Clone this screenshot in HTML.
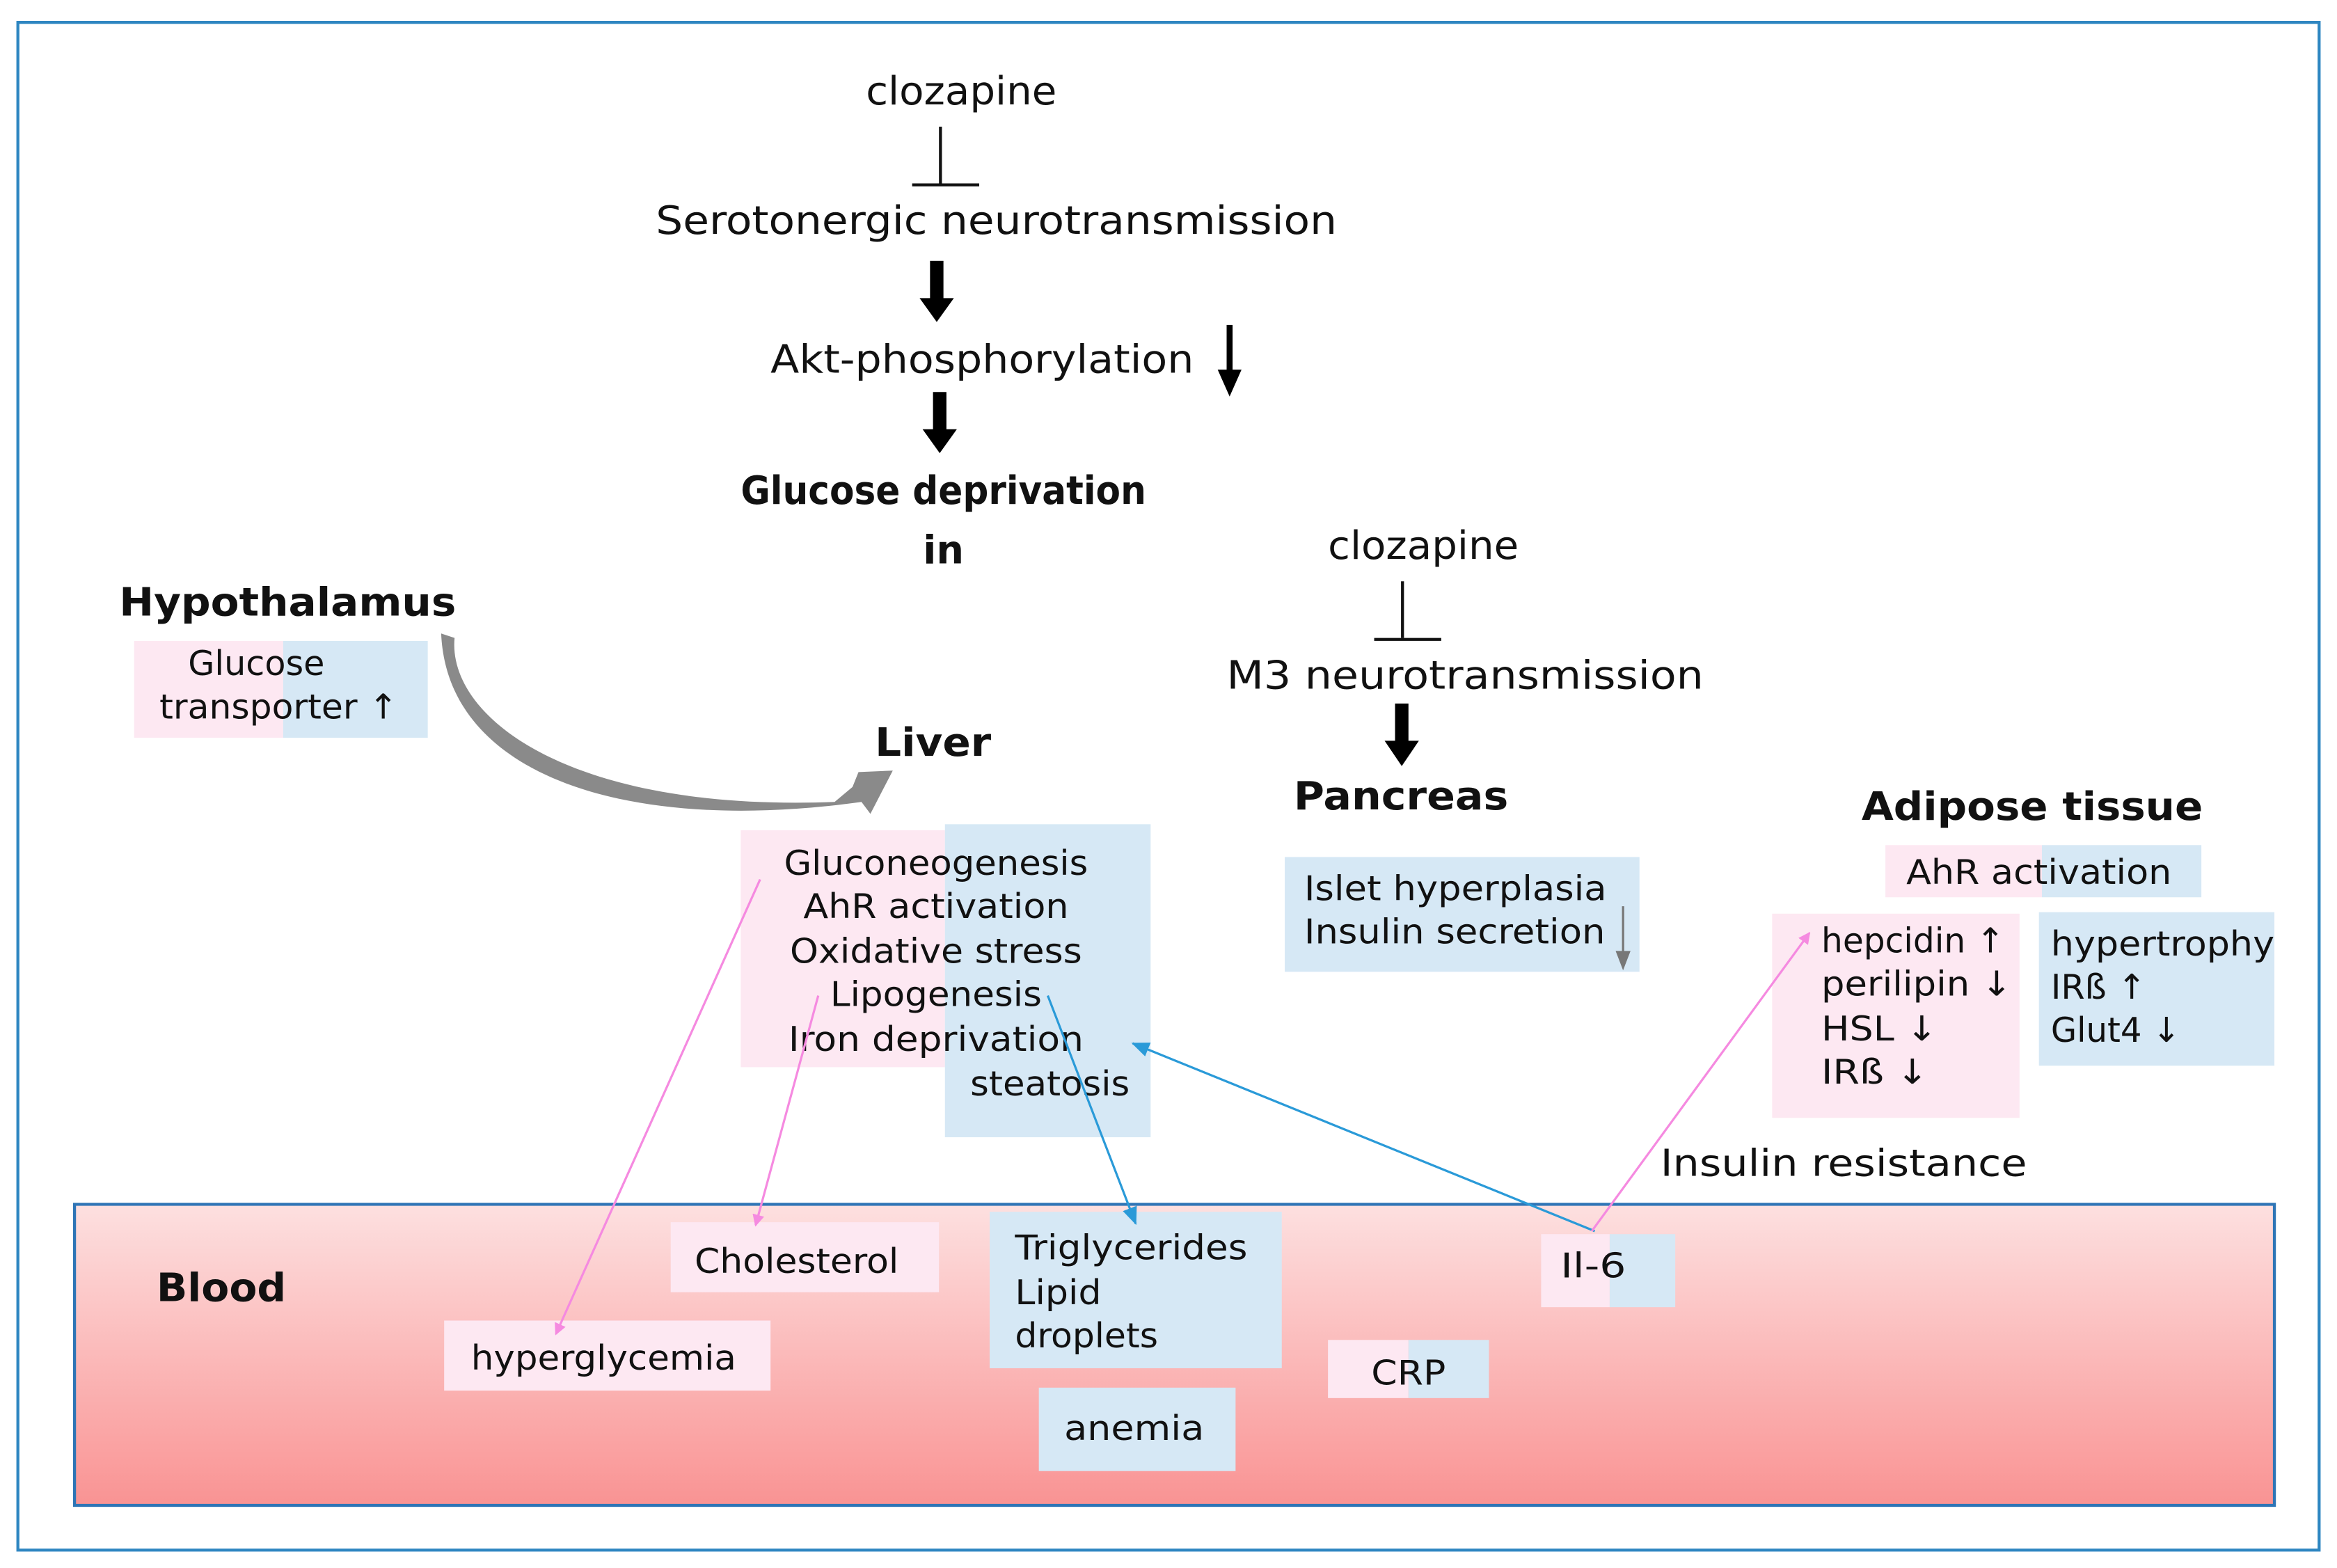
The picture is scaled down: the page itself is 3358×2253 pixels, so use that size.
<!DOCTYPE html>
<html><head><meta charset="utf-8"><style>
html,body{margin:0;padding:0;background:#fff;}
svg{display:block;}
text{font-family:"DejaVu Sans","Liberation Sans",sans-serif;fill:#111;}
.b{font-weight:bold;}
</style></head><body>
<svg width="3358" height="2253" viewBox="0 0 1568 1052" xmlns="http://www.w3.org/2000/svg">
<defs>
<linearGradient id="bl" x1="0" y1="0" x2="0" y2="1">
<stop offset="0" stop-color="#fde0e0"/><stop offset="1" stop-color="#f99393"/>
</linearGradient>
<marker id="mp" markerWidth="8" markerHeight="8" refX="7" refY="4" orient="auto" markerUnits="userSpaceOnUse"><path d="M0,0 L8,4 L0,8z" fill="#f58ae0"/></marker>
<marker id="mb" markerWidth="12" markerHeight="10" refX="11" refY="5" orient="auto" markerUnits="userSpaceOnUse"><path d="M0,0 L12,5 L0,10z" fill="#2a9ad8"/></marker>
<linearGradient id="gr" x1="0" y1="0" x2="1" y2="1"><stop offset="0" stop-color="#888"/><stop offset="1" stop-color="#aaa"/></linearGradient>
</defs>
<rect x="0" y="0" width="1568" height="1052" fill="#fff"/>
<rect x="12" y="15" width="1544" height="1025" fill="none" stroke="#2e86c1" stroke-width="2"/>

<!-- blood -->
<rect x="50" y="808" width="1476" height="202" fill="url(#bl)" stroke="#2e75b6" stroke-width="2"/>

<!-- top cascade -->
<text x="645" y="70" font-size="26" text-anchor="middle" textLength="128" lengthAdjust="spacingAndGlyphs">clozapine</text>
<line x1="631" y1="85" x2="631" y2="123" stroke="#111" stroke-width="2"/>
<line x1="612" y1="124" x2="657" y2="124" stroke="#111" stroke-width="2"/>
<text x="440" y="157" font-size="26" textLength="457" lengthAdjust="spacingAndGlyphs">Serotonergic  neurotransmission</text>
<rect x="624" y="175" width="9" height="27" fill="#000"/><path d="M617,200 L640,200 L628.5,216z" fill="#000"/>
<text x="517" y="250" font-size="26" textLength="284" lengthAdjust="spacingAndGlyphs">Akt-phosphorylation</text>
<rect x="823" y="218" width="4" height="33" fill="#000"/><path d="M817,248 L833,248 L825,266z" fill="#000"/>
<rect x="626" y="263" width="9" height="27" fill="#000"/><path d="M619,288 L642,288 L630.5,304z" fill="#000"/>
<text x="633" y="338" font-size="26" class="b" text-anchor="middle" textLength="272" lengthAdjust="spacingAndGlyphs">Glucose deprivation</text>
<text x="633" y="378" font-size="26" class="b" text-anchor="middle">in</text>

<text x="955" y="375" font-size="26" text-anchor="middle" textLength="128" lengthAdjust="spacingAndGlyphs">clozapine</text>
<line x1="941" y1="390" x2="941" y2="428" stroke="#111" stroke-width="2"/>
<line x1="922" y1="429" x2="967" y2="429" stroke="#111" stroke-width="2"/>
<text x="823" y="462" font-size="26" textLength="320" lengthAdjust="spacingAndGlyphs">M3   neurotransmission</text>
<rect x="936" y="472" width="9" height="27" fill="#000"/><path d="M929,497 L952,497 L940.5,514z" fill="#000"/>
<text x="868" y="543" font-size="26" class="b" textLength="144" lengthAdjust="spacingAndGlyphs">Pancreas</text>

<!-- Hypothalamus -->
<text x="80" y="413" font-size="26" class="b" textLength="226" lengthAdjust="spacingAndGlyphs">Hypothalamus</text>
<rect x="90" y="430" width="100" height="65" fill="#fde8f2"/>
<rect x="190" y="430" width="97" height="65" fill="#d6e8f5"/>
<text x="172" y="453" font-size="23" text-anchor="middle">Glucose</text>
<text x="107" y="482" font-size="23" textLength="160" lengthAdjust="spacingAndGlyphs">transporter ↑</text>

<!-- gray curved arrow -->
<path d="M296,425 L305,428 C300,480 380,545 560,538 L572,528 L576,518 L599,517 L584,546 L578,538 C420,560 300,520 296,425z" fill="#8a8a8a"/>

<text x="587" y="507" font-size="26" class="b" textLength="78" lengthAdjust="spacingAndGlyphs">Liver</text>
<rect x="497" y="557" width="137" height="159" fill="#fde8f2"/>
<rect x="634" y="553" width="138" height="210" fill="#d6e8f5"/>
<g font-size="23" text-anchor="middle">
<text x="628" y="587" textLength="204" lengthAdjust="spacingAndGlyphs">Gluconeogenesis</text>
<text x="628" y="616" textLength="178" lengthAdjust="spacingAndGlyphs">AhR activation</text>
<text x="628" y="646" textLength="196" lengthAdjust="spacingAndGlyphs">Oxidative stress</text>
<text x="628" y="675" textLength="142" lengthAdjust="spacingAndGlyphs">Lipogenesis</text>
<text x="628" y="705" textLength="198" lengthAdjust="spacingAndGlyphs">Iron deprivation</text>
</g>
<text x="651" y="735" font-size="23" textLength="107" lengthAdjust="spacingAndGlyphs">steatosis</text>

<!-- Pancreas box -->
<rect x="862" y="575" width="238" height="77" fill="#d6e8f5"/>
<text x="875" y="604" font-size="23" textLength="203" lengthAdjust="spacingAndGlyphs">Islet hyperplasia</text>
<text x="875" y="633" font-size="23" textLength="202" lengthAdjust="spacingAndGlyphs">Insulin secretion</text>
<line x1="1089" y1="608" x2="1089" y2="640" stroke="#777" stroke-width="1.5"/><path d="M1084,638 L1094,638 L1089,651z" fill="#777"/>

<!-- Adipose -->
<text x="1249" y="550" font-size="26" class="b" textLength="229" lengthAdjust="spacingAndGlyphs">Adipose tissue</text>
<rect x="1265" y="567" width="105" height="35" fill="#fde8f2"/>
<rect x="1370" y="567" width="107" height="35" fill="#d6e8f5"/>
<text x="1279" y="593" font-size="23" textLength="178" lengthAdjust="spacingAndGlyphs">AhR activation</text>
<rect x="1189" y="613" width="166" height="137" fill="#fde8f2"/>
<g font-size="23">
<text x="1222" y="639" textLength="123" lengthAdjust="spacingAndGlyphs">hepcidin ↑</text>
<text x="1222" y="668" textLength="128" lengthAdjust="spacingAndGlyphs">perilipin ↓</text>
<text x="1222" y="698" textLength="78" lengthAdjust="spacingAndGlyphs">HSL ↓</text>
<text x="1222" y="727" textLength="72" lengthAdjust="spacingAndGlyphs">IRß ↓</text>
</g>
<rect x="1368" y="612" width="158" height="103" fill="#d6e8f5"/>
<g font-size="23">
<text x="1376" y="641" textLength="150" lengthAdjust="spacingAndGlyphs">hypertrophy</text>
<text x="1376" y="670" textLength="64" lengthAdjust="spacingAndGlyphs">IRß ↑</text>
<text x="1376" y="699" textLength="87" lengthAdjust="spacingAndGlyphs">Glut4 ↓</text>
</g>
<text x="1114" y="789" font-size="25" textLength="246" lengthAdjust="spacingAndGlyphs">Insulin  resistance</text>

<!-- Blood contents -->
<text x="105" y="873" font-size="26" class="b" textLength="87" lengthAdjust="spacingAndGlyphs">Blood</text>
<rect x="450" y="820" width="180" height="47" fill="#fde8f2"/>
<text x="466" y="854" font-size="23" textLength="137" lengthAdjust="spacingAndGlyphs">Cholesterol</text>
<rect x="298" y="886" width="219" height="47" fill="#fde8f2"/>
<text x="316" y="919" font-size="23" textLength="178" lengthAdjust="spacingAndGlyphs">hyperglycemia</text>
<rect x="664" y="813" width="196" height="105" fill="#d6e8f5"/>
<g font-size="23">
<text x="681" y="845" textLength="156" lengthAdjust="spacingAndGlyphs">Triglycerides</text>
<text x="681" y="875" textLength="58" lengthAdjust="spacingAndGlyphs">Lipid</text>
<text x="681" y="904" textLength="96" lengthAdjust="spacingAndGlyphs">droplets</text>
</g>
<rect x="697" y="931" width="132" height="56" fill="#d6e8f5"/>
<text x="714" y="966" font-size="23" textLength="94" lengthAdjust="spacingAndGlyphs">anemia</text>
<rect x="891" y="899" width="54" height="39" fill="#fde8f2"/>
<rect x="945" y="899" width="54" height="39" fill="#d6e8f5"/>
<text x="920" y="929" font-size="23" textLength="50" lengthAdjust="spacingAndGlyphs">CRP</text>
<rect x="1034" y="828" width="46" height="49" fill="#fde8f2"/>
<rect x="1080" y="828" width="44" height="49" fill="#d6e8f5"/>
<text x="1047" y="857" font-size="23" textLength="44" lengthAdjust="spacingAndGlyphs">Il-6</text>

<!-- connectors -->
<line x1="510" y1="590" x2="373" y2="895" stroke="#f58ae0" stroke-width="1.5" marker-end="url(#mp)"/>
<line x1="549" y1="668" x2="507" y2="822" stroke="#f58ae0" stroke-width="1.5" marker-end="url(#mp)"/>
<line x1="703" y1="668" x2="762" y2="821" stroke="#2a9ad8" stroke-width="1.5" marker-end="url(#mb)"/>
<line x1="1070" y1="826" x2="760" y2="700" stroke="#2a9ad8" stroke-width="1.5" marker-end="url(#mb)"/>
<line x1="1068" y1="826" x2="1214" y2="626" stroke="#f58ae0" stroke-width="1.5" marker-end="url(#mp)"/>
</svg>
</body></html>
